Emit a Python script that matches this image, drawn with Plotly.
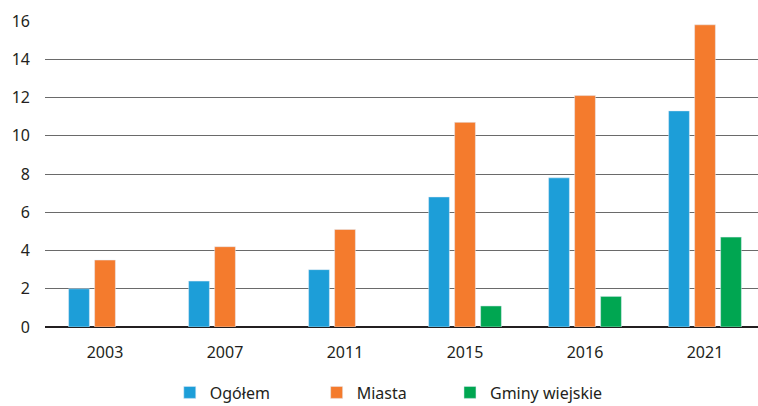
import plotly.graph_objects as go

years = ["2003", "2007", "2011", "2015", "2016", "2021"]
ogolem = [2.0, 2.4, 3.0, 6.8, 7.8, 11.3]
miasta = [3.5, 4.2, 5.1, 10.7, 12.1, 15.8]
gminy = [None, None, None, 1.1, 1.6, 4.7]
y_ticks = [0, 2, 4, 6, 8, 10, 12, 14, 16]

font = "Noto Sans"
txt = "#231f20"

fig = go.Figure()
fig.add_trace(go.Bar(name="Ogółem", x=years, y=ogolem, marker_color="#1d9ed8", legend="legend"))
fig.add_trace(go.Bar(name="Miasta", x=years, y=miasta, marker_color="#f47b2d", legend="legend2"))
fig.add_trace(go.Bar(name="Gminy wiejskie", x=years, y=gminy, marker_color="#00a651", legend="legend3"))

def leg(x):
    return dict(orientation="h", x=x, y=-0.214, xanchor="left", yanchor="middle",
                font=dict(size=16, color=txt), bgcolor="rgba(0,0,0,0)")

fig.update_layout(
    width=758, height=406,
    margin=dict(l=45, r=0, t=21, b=78.5, autoexpand=False),
    paper_bgcolor="white", plot_bgcolor="white",
    barmode="group", bargap=0.35, bargroupgap=0.2,
    font=dict(family=font, size=16, color=txt),
    showlegend=True,
    legend=leg(0.175),
    legend2=leg(0.381),
    legend3=leg(0.568),
    xaxis=dict(range=[-0.5, -0.5 + 713 / 120], showgrid=False, showline=False,
               automargin=False, ticks="", ticklabelstandoff=14,
               tickfont=dict(size=16, color=txt)),
    yaxis=dict(range=[0, 16], tickvals=y_ticks, showgrid=True, gridcolor="#6a6a6a",
               gridwidth=1, zeroline=True, zerolinecolor="#231f20", zerolinewidth=2,
               showline=False, automargin=False, ticks="", ticklabelstandoff=14,
               tickfont=dict(size=16, color=txt)),
)

fig.write_html("out.html", config={"displayModeBar": False},
               post_script="document.body.style.margin='0';")
